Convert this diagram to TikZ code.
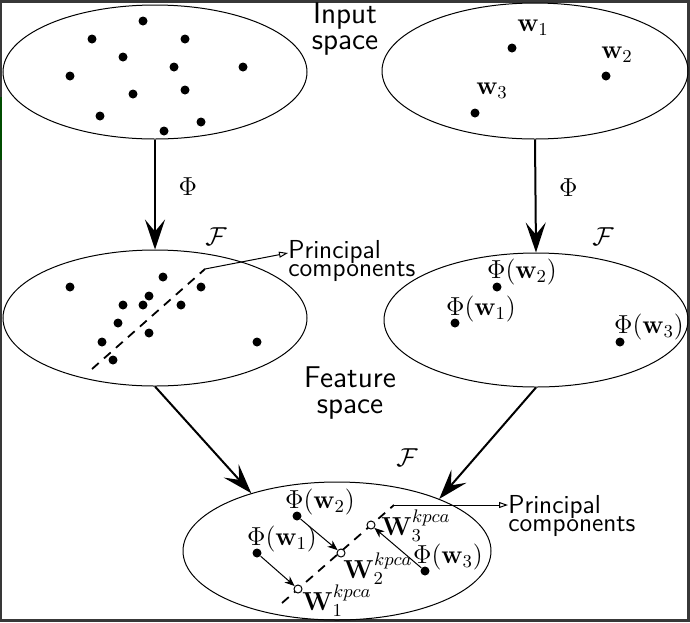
\RequirePackage{fix-cm}
\documentclass[tikz,border=0pt]{standalone}
\usetikzlibrary{shapes.geometric,arrows.meta}
\usepackage{amsmath}

\begin{document}
\begin{tikzpicture}[
x=0.5pt,
y=-0.5pt,
space/.style={
  ellipse,
  draw,
  line width=0.5pt,
  inner sep=0pt
  },
pnt/.style={
  circle,
  fill,
  inner sep=0pt,
  minimum size=4.5pt
  },
hollow/.style={
  circle,
  draw,
  fill=white,
  inner sep=0pt,
  minimum size=4pt,
  line width=0.5pt
  },
lbl/.style={font=\fontsize{13}{15}\selectfont},
txt/.style={
  font=\sffamily\fontsize{15}{13}\selectfont,
  align=center
  },
pctxt/.style={
  font=\sffamily\fontsize{13}{13}\selectfont,
  align=left,
  inner sep=0pt
  },
map/.style={-{Stealth[length=15pt,width=10pt,inset=6pt]}, line width=1pt},
proj/.style={-{Stealth[length=5pt,width=4pt,inset=1.5pt]}, line width=0.5pt},
pc/.style={dash pattern=on 4.5pt off 3.5pt, line width=0.9pt},
pcline/.style={-{Triangle[open,length=4.5pt,width=3pt]}, line width=0.5pt}
]
% screen frame
\useasboundingbox (0,0) rectangle (690,622);
\fill[black!78] (0,0) rectangle (690,622);
\fill[white] (2,3) rectangle (687,619);
\fill[green!30!black] (0,97) rectangle (2,160);

% the five spaces
\node[space, minimum width=152pt, minimum height=67pt] (inL) at (155,72) {};
\node[space, minimum width=153pt, minimum height=68pt] (inR) at (535,71) {};
\node[space, minimum width=152pt, minimum height=68pt] (feL) at (155,318) {};
\node[space, minimum width=152pt, minimum height=67pt] (feR) at (536,320) {};
\node[space, minimum width=154pt, minimum height=69pt] (kp) at (337,551) {};

\node[txt] (intxt) at (345,29) {Input\\space};
\node[txt] (fetxt) at (350,393) {Feature\\space};

% input data
\foreach \px/\py [count=\i] in {143/21,92/39,185/39,123/57,174/67,243/67,70/76,133/94,185/90,100/116,201/122,164/131}
  \node[pnt] (x\i) at (\px,\py) {};
\node[pnt] (w1) at (512,48) {};
\node[pnt] (w2) at (606,76) {};
\node[pnt] (w3) at (475,113) {};
\node[lbl] (lw1) at (533,28) {$\mathbf{w}_1$};
\node[lbl] (lw2) at (617,55) {$\mathbf{w}_2$};
\node[lbl] (lw3) at (492,91) {$\mathbf{w}_3$};

% mapped data
\foreach \px/\py [count=\i] in {70/287,163/277,201/287,149/296,123/305,143/305,181/305,118/323,149/333,102/342,113/360,257/342}
  \node[pnt] (f\i) at (\px,\py) {};
\coordinate (pcLa) at (92,369);
\coordinate (pcLs) at (205,269);
\draw[pc] (pcLa) -- (pcLs);
\node[pctxt, anchor=west] (pcL) at (288,261) {Principal\\[-4pt]components};
\draw[pcline] (pcLs) -- ([yshift=4pt]pcL.west);

\node[pnt] (fw1) at (455,323) {};
\node[pnt] (fw2) at (497,287) {};
\node[pnt] (fw3) at (620,342) {};
\node[lbl] (lfw1) at (481,309) {$\Phi(\mathbf{w}_1)$};
\node[lbl] (lfw2) at (522,272) {$\Phi(\mathbf{w}_2)$};
\node[lbl] (lfw3) at (649,327) {$\Phi(\mathbf{w}_3)$};

\node[lbl] (FL) at (216,237) {$\mathcal{F}$};
\node[lbl] (FR) at (603,237) {$\mathcal{F}$};
\node[lbl] (FB) at (407,458) {$\mathcal{F}$};

% maps
\draw[map] (inL.south) -- node[lbl, right=8pt, yshift=4pt] (phiL) {$\Phi$} (feL.north);
\draw[map] (inR.south) -- node[lbl, right=8pt, yshift=4pt] (phiR) {$\Phi$} (feR.north);
\draw[map] (feL.south) -- (kp.146);
\draw[map] (feR.south) -- (kp.27);

% kernel PCA projections
\coordinate (pcBa) at (282,603);
\coordinate (pcBs) at (394,505);
\draw[pc] (pcBa) -- (pcBs);
\node[pctxt, anchor=west] (pcB) at (508,516) {Principal\\[-4pt]components};
\draw[pcline] (pcBs) -- (pcB.west |- pcBs);

\node[pnt] (bw1) at (257,553) {};
\node[pnt] (bw2) at (297,516) {};
\node[pnt] (bw3) at (425,571) {};
\node[hollow] (bW1) at (298,589) {};
\node[hollow] (bW2) at (341,553) {};
\node[hollow] (bW3) at (371,525) {};
\draw[proj] (bw1) -- (bW1);
\draw[proj] (bw2) -- (bW2);
\draw[proj] (bw3) -- (bW3);
\node[lbl] (lbw1) at (282,539) {$\Phi(\mathbf{w}_1)$};
\node[lbl] (lbw2) at (320,502) {$\Phi(\mathbf{w}_2)$};
\node[lbl] (lbw3) at (448,557) {$\Phi(\mathbf{w}_3)$};
\node[lbl, anchor=west, inner sep=0pt] (lbW1) at (302,601) {$\mathbf{W}_1^{kpca}$};
\node[lbl, anchor=west, inner sep=0pt] (lbW2) at (343,569) {$\mathbf{W}_2^{kpca}$};
\node[lbl, anchor=west, inner sep=0pt] (lbW3) at (381,526) {$\mathbf{W}_3^{kpca}$};
\end{tikzpicture}
\end{document}
